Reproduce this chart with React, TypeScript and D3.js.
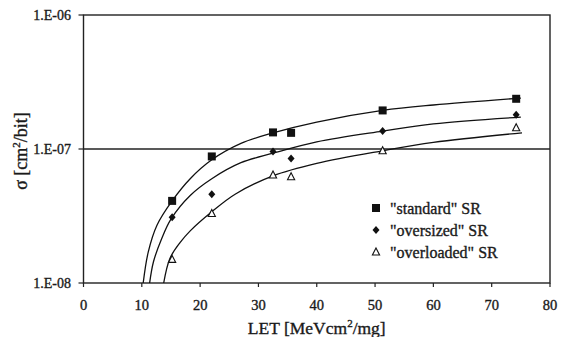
import React from "react";
import * as d3 from "d3";

// measured points (LET in MeVcm2/mg, cross section in cm2/bit)
const letValues = [15.2, 22.0, 32.5, 35.6, 51.3, 74.2];
const standardSigma = [4.1e-8, 8.8e-8, 1.33e-7, 1.32e-7, 1.94e-7, 2.37e-7];
const oversizedSigma = [3.1e-8, 4.6e-8, 9.6e-8, 8.5e-8, 1.36e-7, 1.8e-7];
const overloadedSigma = [1.5e-8, 3.3e-8, 6.4e-8, 6.2e-8, 9.7e-8, 1.44e-7];

// fitted curves
const standardFitLet = [10.2, 11.1, 12.6, 15.2, 18.3, 22, 27, 32.5, 40, 51.3, 60, 75];
const standardFitSigma = [0.97e-8, 1.7e-8, 2.7e-8, 4.1e-8, 6.0e-8, 8.3e-8, 1.1e-7, 1.32e-7, 1.59e-7, 1.94e-7, 2.13e-7, 2.4e-7];
const oversizedFitLet = [11.3, 12.0, 13.4, 15.0, 18.3, 22, 27, 32.5, 40, 51.3, 60, 75];
const oversizedFitSigma = [0.97e-8, 1.44e-8, 2.14e-8, 3.0e-8, 4.5e-8, 6.0e-8, 7.9e-8, 9.3e-8, 1.13e-7, 1.36e-7, 1.54e-7, 1.73e-7];
const overloadedFitLet = [13.7, 14.8, 16.55, 18.3, 22, 26, 32.5, 40, 51.3, 60, 75.2];
const overloadedFitSigma = [0.97e-8, 1.52e-8, 2.0e-8, 2.45e-8, 3.4e-8, 4.6e-8, 6.3e-8, 7.8e-8, 9.7e-8, 1.12e-7, 1.32e-7];

const xTicks = [0, 10, 20, 30, 40, 50, 60, 70, 80];
const yTicks = [1e-8, 1e-7, 1e-6];
const yTickLabels = ["1.E-08", "1.E-07", "1.E-06"];
const legendLabels = ['"standard" SR', '"oversized" SR', '"overloaded" SR'];

const W = 561;
const H = 337;
const left = 83.5;
const right = 550;
const top = 15;
const bottom = 283;
const font = "'Liberation Serif', 'Times New Roman', serif";

const x = d3.scaleLinear().domain([0, 80]).range([left, right]);
const y = d3.scaleLog().domain([1e-8, 1e-6]).range([bottom, top]);

const line = d3
  .line<[number, number]>()
  .x((d) => x(d[0]))
  .y((d) => y(d[1]))
  .curve(d3.curveCatmullRom.alpha(0.5));

const zip = (a: number[], b: number[]) => a.map((v, i) => [v, b[i]] as [number, number]);

const Marker = ({ kind, cx, cy }: { kind: number; cx: number; cy: number }) => {
  if (kind === 0) return <rect x={cx - 4} y={cy - 4} width={8} height={8} fill="#111" />;
  if (kind === 1)
    return <path d={`M${cx},${cy - 4}L${cx + 3.5},${cy}L${cx},${cy + 4}L${cx - 3.5},${cy}Z`} fill="#111" />;
  return (
    <path
      d={`M${cx},${cy - 4}L${cx + 3.6},${cy + 3}L${cx - 3.6},${cy + 3}Z`}
      fill="white"
      stroke="#111"
      strokeWidth={1.1}
    />
  );
};

export default function App() {
  const series = [standardSigma, oversizedSigma, overloadedSigma];
  const fits = [
    zip(standardFitLet, standardFitSigma),
    zip(oversizedFitLet, oversizedFitSigma),
    zip(overloadedFitLet, overloadedFitSigma),
  ];
  // scanned text looks a little heavier than plain regular weight
  const ink = { fill: "#1a1a1a", stroke: "#1a1a1a", strokeWidth: 0.35 };

  return (
    <svg
      width={W}
      height={H}
      style={{ position: "absolute", left: 0, top: 0, background: "white" }}
      fontFamily={font}
    >
      <defs>
        <clipPath id="plot">
          <rect x={left} y={top} width={right - left} height={bottom - top} />
        </clipPath>
      </defs>

      {/* frame + grid */}
      <rect x={left} y={top} width={right - left} height={bottom - top} fill="none" stroke="#222" strokeWidth={1.4} />
      <line x1={left} x2={right} y1={y(1e-7)} y2={y(1e-7)} stroke="#222" strokeWidth={1.3} />

      {xTicks.map((t) => (
        <g key={t}>
          <line x1={x(t)} x2={x(t)} y1={bottom} y2={bottom + 4} stroke="#222" strokeWidth={1.2} />
          <text x={x(t)} y={310} textAnchor="middle" fontSize={14.5} {...ink}>
            {t}
          </text>
        </g>
      ))}
      {yTicks.map((t, i) => (
        <g key={t}>
          <line x1={left - 5} x2={left} y1={y(t)} y2={y(t)} stroke="#222" strokeWidth={1.2} />
          <text x={71} y={y(t) + 5} textAnchor="end" fontSize={14} {...ink}>
            {yTickLabels[i]}
          </text>
        </g>
      ))}

      {/* fits */}
      <g clipPath="url(#plot)">
        {fits.map((f, i) => (
          <path key={i} d={line(f) || ""} fill="none" stroke="#111" strokeWidth={1.3} />
        ))}
      </g>

      {/* points */}
      {series.map((s, k) =>
        s.map((v, i) => <Marker key={`${k}-${i}`} kind={k} cx={x(letValues[i])} cy={y(v)} />)
      )}

      {/* legend */}
      {legendLabels.map((l, i) => (
        <g key={l}>
          <Marker kind={i} cx={376} cy={208 + i * 22} />
          <text x={390} y={214 + i * 22} fontSize={16} {...ink}>
            {l}
          </text>
        </g>
      ))}

      {/* axis titles */}
      <text x={(left + right) / 2} y={334} textAnchor="middle" fontSize={17.5} {...ink}>
        LET [MeVcm
        <tspan dy={-7} fontSize={11}>
          2
        </tspan>
        <tspan dy={7}>/mg]</tspan>
      </text>
      <text transform={`translate(27,151) rotate(-90)`} textAnchor="middle" fontSize={18} {...ink}>
        σ [cm
        <tspan dy={-7} fontSize={11}>
          2
        </tspan>
        <tspan dy={7}>/bit]</tspan>
      </text>
    </svg>
  );
}
